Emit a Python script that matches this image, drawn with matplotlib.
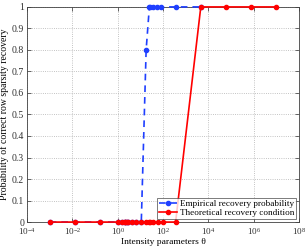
import numpy as np
import matplotlib
matplotlib.use('Agg')
import matplotlib.pyplot as plt
from matplotlib.ticker import FixedLocator

# values
emp_x = [1e-3, 1.29e-2, 0.167, 1.0, 1.5, 2.0, 2.15, 2.5, 3.0, 4.2, 6.2, 11.0,
         18.0, 25.0, 28.0, 36.0, 52.0, 85.0, 359.0, 4642.0]
emp_y = [0, 0, 0, 0, 0, 0, 0, 0, 0, 0, 0, 0,
         0.8, 1, 1, 1, 1, 1, 1, 1]

theo_x = [1e-3, 1.29e-2, 0.167, 1.0, 1.5, 2.0, 2.15, 2.5, 3.0, 4.2, 6.2, 11.0,
          18.0, 25.0, 28.0, 36.0, 63.0, 95.0, 359.0, 4642.0, 59948.0, 774264.0, 1e7]
theo_y = [0, 0, 0, 0, 0, 0, 0, 0, 0, 0, 0, 0,
          0, 0, 0, 0, 0, 0, 0, 1, 1, 1, 1]

xticks = [1e-4, 1e-2, 1e0, 1e2, 1e4, 1e6, 1e8]
yticks = [0, 0.1, 0.2, 0.3, 0.4, 0.5, 0.6, 0.7, 0.8, 0.9, 1]

plt.rcParams['font.family'] = ['Liberation Serif', 'DejaVu Serif']
plt.rcParams['mathtext.fontset'] = 'stix'

fig = plt.figure(figsize=(3.07, 2.47), dpi=100)
ax = fig.add_axes([0.088, 0.101, 0.886, 0.871])

ax.plot(emp_x, emp_y, color='#1f3fff', linestyle='--', linewidth=1.2,
        marker='.', markersize=6, dashes=(4, 3), clip_on=False, zorder=3,
        label='Empirical recovery probability')
ax.plot(theo_x, theo_y, color='#ff0000', linestyle='-', linewidth=1.2,
        marker='.', markersize=6, clip_on=False, zorder=4,
        label='Theoretical recovery condition')

ax.set_xscale('log')
ax.set_xlim(1e-4, 1e8)
ax.set_ylim(0, 1)
ax.xaxis.set_major_locator(FixedLocator(xticks))
ax.xaxis.set_minor_locator(FixedLocator([]))
ax.set_yticks(yticks)
ax.set_yticklabels(['0', '0.1', '0.2', '0.3', '0.4', '0.5', '0.6', '0.7', '0.8', '0.9', '1'])

ax.grid(True, which='major', linestyle=':', linewidth=0.6, color='#b0b0b0')
ax.tick_params(direction='in', length=3, width=0.5, labelsize=7, top=True,
               right=True, colors='#303030')
ax.tick_params(axis='y', pad=2)
ax.tick_params(axis='x', pad=3, labelsize=6.6)
for s in ax.spines.values():
    s.set_linewidth(0.6)
    s.set_color('#404040')

ax.set_xlabel('Intensity parameters θ', fontsize=6.8)
ax.set_ylabel('Probability of correct row sparsity recovery', fontsize=7)
ax.xaxis.set_label_coords(0.5, -0.074)
ax.yaxis.set_label_coords(-0.065, 0.5)

leg = ax.legend(loc='lower right', fontsize=6.6, frameon=True, fancybox=False,
                edgecolor='#404040', borderpad=0.2, labelspacing=0.05,
                handlelength=2.0, handletextpad=0.25, borderaxespad=0.35)
leg.get_frame().set_linewidth(0.6)
leg.set_zorder(5)

fig.savefig('out.png', dpi=100)
